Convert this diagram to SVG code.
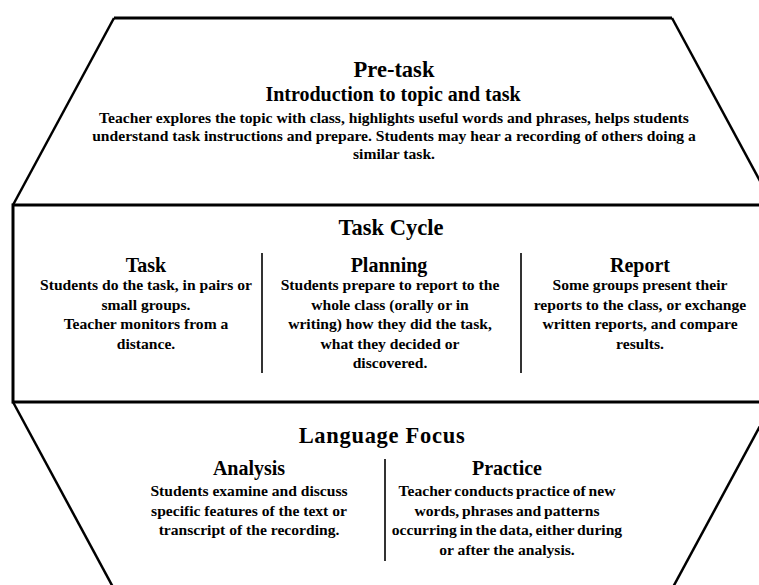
<svg xmlns="http://www.w3.org/2000/svg" width="759" height="585" viewBox="0 0 759 585">
  <style>
    .edge { fill: none; stroke: #000; stroke-width: 3; stroke-linejoin: miter; }
    .slant { fill: none; stroke: #000; stroke-width: 2.5; }
    .divider { stroke: #333; stroke-width: 2; }
    text { font-family: "Liberation Serif", "Times New Roman", serif; font-weight: bold; fill: #000; text-anchor: middle; }
    .h1 { font-size: 22.5px; }
    .h2 { font-size: 20px; }
    .body { font-size: 15.6px; }
  </style>

  <rect width="759" height="585" fill="#fff"/>

  <!-- hexagonal outline split into three bands -->
  <g id="outline">
    <path class="slant" d="M13,205 L114,18"/>
    <path class="slant" d="M672,18 L773,205"/>
    <path class="slant" d="M13,402 L114,589"/>
    <path class="slant" d="M773,402 L672,589"/>
    <path class="edge" d="M114,18 L672,18"/>
    <path class="edge" d="M13,205 L775,205"/>
    <path class="edge" d="M13,402 L775,402"/>
    <path class="edge" d="M13,203.5 L13,403.5"/>
  </g>

  <!-- band 1 -->
  <g id="pre-task">
    <text class="h1" x="394" y="77" font-size="23">Pre-task</text>
    <text class="h2" x="393" y="101">Introduction to topic and task</text>
    <text class="body" x="394" y="123">Teacher explores the topic with class, highlights useful words and phrases, helps students</text>
    <text class="body" x="394" y="141">understand task instructions and prepare.  Students may hear a recording of others doing a</text>
    <text class="body" x="394" y="159">similar task.</text>
  </g>

  <!-- band 2 -->
  <g id="task-cycle">
    <text class="h1" x="391" y="235">Task Cycle</text>
    <line class="divider" x1="262" y1="253" x2="262" y2="373"/>
    <line class="divider" x1="521" y1="253" x2="521" y2="373"/>
    <g id="task">
      <text class="h2" x="146" y="272">Task</text>
      <text class="body" x="146" y="290">Students do the task, in pairs or</text>
      <text class="body" x="146" y="309.5">small groups.</text>
      <text class="body" x="146" y="329">Teacher monitors from a</text>
      <text class="body" x="146" y="348.5">distance.</text>
    </g>
    <g id="planning">
      <text class="h2" x="389" y="272">Planning</text>
      <text class="body" x="390" y="290">Students prepare to report to the</text>
      <text class="body" x="390" y="309.5">whole class (orally or in</text>
      <text class="body" x="390" y="329">writing) how they did the task,</text>
      <text class="body" x="390" y="348.5">what they decided or</text>
      <text class="body" x="390" y="368">discovered.</text>
    </g>
    <g id="report">
      <text class="h2" x="640" y="272">Report</text>
      <text class="body" x="640" y="290">Some groups present their</text>
      <text class="body" x="640" y="309.5">reports to the class, or exchange</text>
      <text class="body" x="640" y="329">written reports, and compare</text>
      <text class="body" x="640" y="348.5">results.</text>
    </g>
  </g>

  <!-- band 3 -->
  <g id="language-focus">
    <text class="h1" x="382" y="443" font-size="23" letter-spacing="0.7">Language Focus</text>
    <line class="divider" x1="385" y1="459" x2="385" y2="561"/>
    <g id="analysis">
      <text class="h2" x="249" y="475">Analysis</text>
      <text class="body" x="249" y="496">Students examine and discuss</text>
      <text class="body" x="249" y="515.5">specific features of the text or</text>
      <text class="body" x="249" y="535">transcript of the recording.</text>
    </g>
    <g id="practice">
      <text class="h2" x="507" y="475">Practice</text>
      <text class="body" x="507" y="496" word-spacing="-1">Teacher conducts practice of new</text>
      <text class="body" x="507" y="515.5" word-spacing="-1">words, phrases and patterns</text>
      <text class="body" x="507" y="535" word-spacing="-1">occurring in the data, either during</text>
      <text class="body" x="507" y="554.5">or after the analysis.</text>
    </g>
  </g>
</svg>
